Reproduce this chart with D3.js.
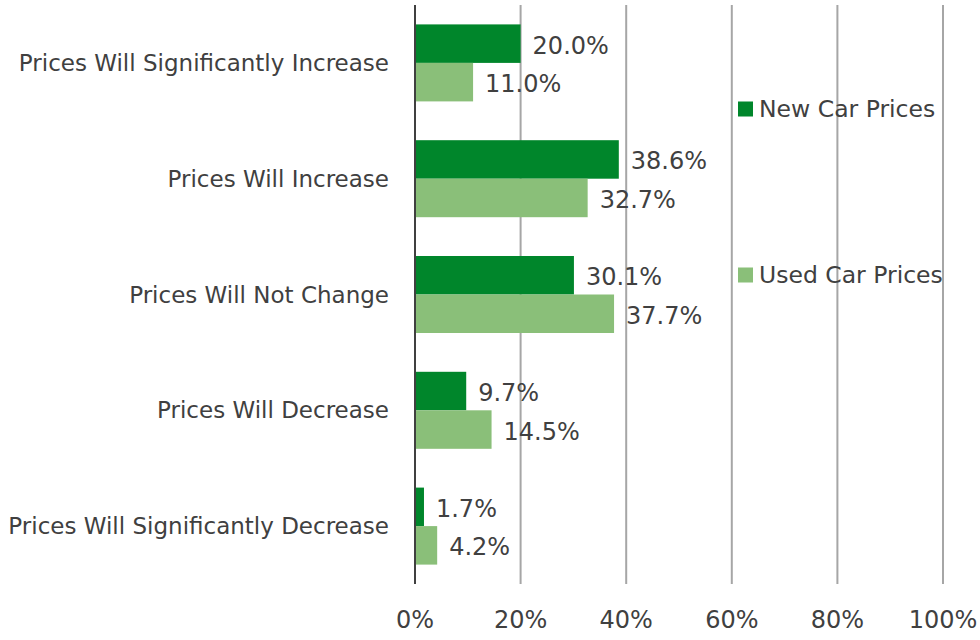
<!DOCTYPE html>
<html>
<head>
<meta charset="utf-8">
<script src="https://cdn.jsdelivr.net/npm/d3@7"></script>
<style>
  html, body { margin: 0; padding: 0; background: #ffffff; }
  svg { display: block; }
  text { font-family: "DejaVu Sans", sans-serif; fill: #404040; }
</style>
</head>
<body>
<svg id="chart" width="980" height="640"></svg>
<script>
// Survey responses: expected price movement
const categories = [
  "Prices Will Significantly Increase",
  "Prices Will Increase",
  "Prices Will Not Change",
  "Prices Will Decrease",
  "Prices Will Significantly Decrease"
];
const seriesNames = ["New Car Prices", "Used Car Prices"];
const newCarPrices = [20.0, 38.6, 30.1, 9.7, 1.7];
const usedCarPrices = [11.0, 32.7, 37.7, 14.5, 4.2];
const tickValues = [0, 20, 40, 60, 80, 100];
const colors = ["#00862b", "#8abf79"];

const svg = d3.select("#chart");
const plot = { left: 415, right: 943, top: 5, bottom: 584 };

const x = d3.scaleLinear().domain([0, 100]).range([plot.left, plot.right]);
const y = d3.scaleBand().domain(categories).range([plot.top, plot.bottom]).paddingInner(0.335).paddingOuter(0.1675);
const sub = d3.scaleBand().domain(seriesNames).range([0, y.bandwidth()]);

// vertical gridlines
svg.append("g")
  .selectAll("line")
  .data(tickValues.filter(d => d > 0))
  .join("line")
  .attr("x1", d => x(d)).attr("x2", d => x(d))
  .attr("y1", plot.top).attr("y2", plot.bottom)
  .attr("stroke", "#a6a6a6").attr("stroke-width", 2);

// bars with value labels
const series = [newCarPrices, usedCarPrices];
series.forEach((vals, si) => {
  const g = svg.append("g");
  g.selectAll("rect")
    .data(vals)
    .join("rect")
    .attr("x", x(0))
    .attr("y", (d, i) => y(categories[i]) + sub(seriesNames[si]))
    .attr("width", d => x(d) - x(0))
    .attr("height", sub.bandwidth())
    .attr("fill", colors[si]);
  g.selectAll("text")
    .data(vals)
    .join("text")
    .attr("x", d => x(d) + 12)
    .attr("y", (d, i) => y(categories[i]) + sub(seriesNames[si]) + sub.bandwidth() / 2 + 2)
    .attr("dominant-baseline", "central")
    .attr("font-size", 24)
    .text(d => d.toFixed(1) + "%");
});

// y axis line
svg.append("line")
  .attr("x1", x(0)).attr("x2", x(0))
  .attr("y1", plot.top).attr("y2", plot.bottom)
  .attr("stroke", "#404040").attr("stroke-width", 2);

// category labels
svg.append("g")
  .selectAll("text")
  .data(categories)
  .join("text")
  .attr("x", 389)
  .attr("y", d => y(d) + y.bandwidth() / 2)
  .attr("text-anchor", "end")
  .attr("dominant-baseline", "central")
  .attr("font-size", 23)
  .text(d => d);

// x tick labels
svg.append("g")
  .selectAll("text")
  .data(tickValues)
  .join("text")
  .attr("x", d => x(d))
  .attr("y", 628)
  .attr("text-anchor", "middle")
  .attr("font-size", 24)
  .text(d => d + "%");

// legend
const legendY = [109, 275];
const legend = svg.append("g")
  .selectAll("g")
  .data(seriesNames)
  .join("g")
  .attr("transform", (d, i) => `translate(738, ${legendY[i]})`);
legend.append("rect")
  .attr("x", 0).attr("y", -7.5)
  .attr("width", 15).attr("height", 15)
  .attr("fill", (d, i) => colors[i]);
legend.append("text")
  .attr("x", 21).attr("y", 0)
  .attr("dominant-baseline", "central")
  .attr("font-size", 23.5)
  .text(d => d);
</script>
</body>
</html>
